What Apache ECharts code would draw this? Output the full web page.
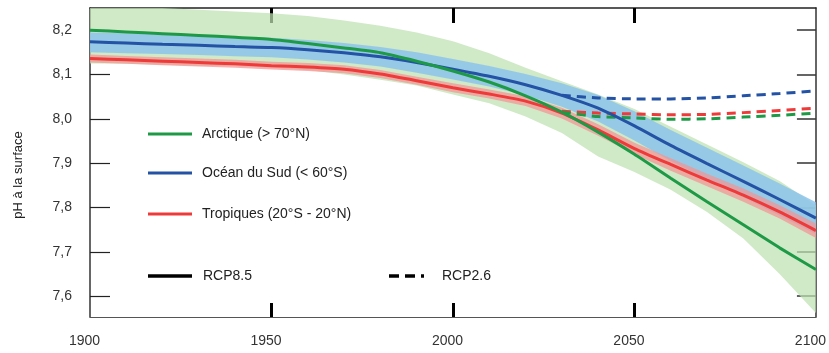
<!DOCTYPE html>
<html><head><meta charset="utf-8">
<script src="https://cdn.jsdelivr.net/npm/echarts@6/dist/echarts.min.js"></script>
<style>html,body{margin:0;padding:0;background:#fff}#c{width:829px;height:353px}</style>
</head><body><div id="c"></div>
<script>
const years = [1900,1910,1920,1930,1940,1950,1960,1970,1980,1990,2000,2010,2020,2030,2040,2050,2060,2070,2080,2090,2100];
const arctique85 = [8.200,8.196,8.192,8.188,8.184,8.179,8.170,8.160,8.149,8.130,8.108,8.083,8.052,8.015,7.970,7.920,7.866,7.813,7.761,7.709,7.660];
const sud85      = [8.174,8.171,8.168,8.166,8.163,8.161,8.156,8.149,8.140,8.127,8.112,8.096,8.077,8.053,8.024,7.984,7.940,7.899,7.859,7.818,7.776];
const tropiques85= [8.136,8.133,8.130,8.127,8.124,8.120,8.117,8.112,8.101,8.086,8.070,8.056,8.040,8.013,7.975,7.933,7.897,7.862,7.828,7.790,7.748];

const arctiqueHi = [8.250,8.250,8.250,8.246,8.242,8.238,8.232,8.222,8.210,8.195,8.175,8.148,8.115,8.085,8.055,8.022,7.982,7.942,7.902,7.860,7.805];
const arctiqueLo = [8.125,8.124,8.122,8.120,8.119,8.116,8.110,8.100,8.088,8.075,8.055,8.035,8.005,7.968,7.915,7.880,7.840,7.790,7.730,7.650,7.562];
const sudHi = [8.195,8.193,8.190,8.188,8.185,8.183,8.178,8.171,8.162,8.150,8.135,8.119,8.101,8.080,8.054,8.017,7.975,7.935,7.895,7.854,7.812];
const sudLo = [8.150,8.148,8.146,8.144,8.141,8.139,8.134,8.127,8.118,8.104,8.089,8.073,8.053,8.027,7.994,7.951,7.905,7.863,7.823,7.782,7.740];
const tropHi = [8.145,8.142,8.139,8.136,8.133,8.129,8.126,8.121,8.110,8.095,8.080,8.066,8.051,8.025,7.988,7.946,7.911,7.876,7.843,7.805,7.764];
const tropLo = [8.127,8.124,8.121,8.118,8.115,8.111,8.108,8.103,8.092,8.077,8.060,8.046,8.029,8.001,7.962,7.920,7.883,7.848,7.813,7.775,7.731];

const years26 = [2030,2040,2050,2060,2070,2080,2090,2100];
const sud26       = [8.053,8.047,8.045,8.045,8.047,8.052,8.057,8.063];
const tropiques26 = [8.017,8.013,8.011,8.009,8.010,8.014,8.019,8.024];
const arctique26  = [8.015,8.005,8.002,7.999,8.000,8.004,8.008,8.013];

const yTicks = [7.6,7.7,7.8,7.9,8.0,8.1,8.2];
const xTicks = [1950,2000,2050];
const xLabels = [1900,1950,2000,2050,2100];

const C_GREEN = '#1e9a47', C_BLUE = '#2452a4', C_RED = '#ef3a3a';
const NARROW = 'Liberation Sans Narrow, Arial Narrow, Liberation Sans, Arial, sans-serif';

function pairs(xs, ys){ return xs.map((x,i)=>[x, ys[i]]); }
function band(name, lo, hi, color){
  return {
    type:'custom', name, silent:true, z:1,
    data:[[years[0], lo[0], hi[0]]],
    renderItem:function(params, api){
      const pts = [];
      for (let i=0;i<years.length;i++) pts.push(api.coord([years[i], hi[i]]));
      for (let i=years.length-1;i>=0;i--) pts.push(api.coord([years[i], lo[i]]));
      const cs = params.coordSys;
      return {type:'polygon', shape:{points:pts}, style:{fill:color},
        clipPath:{type:'rect', shape:{x:cs.x, y:cs.y, width:cs.width, height:cs.height}}};
    }
  };
}
function line(name, xs, ys, color, dashed, z){
  return {type:'line', name, data:pairs(xs, ys), showSymbol:false, smooth:0.2, z:z,
    lineStyle:{color, width:3, type: dashed ? [9,6] : 'solid', cap:'butt'}, silent:true};
}

const chart = echarts.init(document.getElementById('c'), null, {renderer:'canvas'});
const axisFont = {fontFamily:'Liberation Sans, Arial, sans-serif', fontSize:14, color:'#333'};
chart.setOption({
  animation:false,
  grid:{left:90, right:12, top:8, bottom:36},
  xAxis:[
    {type:'value', min:1900, max:2100, position:'bottom',
     axisLine:{show:true, lineStyle:{color:'#555', width:1}},
     axisTick:{show:true, inside:true, length:14, customValues:xTicks, lineStyle:{color:'#000', width:3}},
     axisLabel:Object.assign({customValues:xLabels, margin:17, padding:[0,11,0,0], formatter:v=>String(v)}, axisFont),
     splitLine:{show:false}},
    {type:'value', min:1900, max:2100, position:'top',
     axisLine:{show:true, lineStyle:{color:'#222', width:1.5}},
     axisTick:{show:true, inside:true, length:15, customValues:xTicks, lineStyle:{color:'#000', width:3}},
     axisLabel:{show:false}, splitLine:{show:false}}
  ],
  yAxis:[
    {type:'value', min:7.553, max:8.25, position:'left',
     axisLine:{show:true, lineStyle:{color:'#333', width:1.5}},
     axisTick:{show:true, inside:true, length:20, customValues:yTicks, lineStyle:{color:'#222', width:1.2}},
     axisLabel:Object.assign({customValues:yTicks, margin:18, formatter:v=>v.toFixed(1).replace('.', ',')}, axisFont),
     splitLine:{show:false}},
    {type:'value', min:7.553, max:8.25, position:'right',
     axisLine:{show:true, lineStyle:{color:'#333', width:1.5}},
     axisTick:{show:true, inside:true, length:19, customValues:yTicks, lineStyle:{color:'#333', width:1.5}},
     axisLabel:{show:false}, splitLine:{show:false}}
  ],
  series:[
    band('Arctique bande', arctiqueLo, arctiqueHi, 'rgba(190,224,176,0.72)'),
    band('Sud bande', sudLo, sudHi, 'rgba(140,196,235,0.85)'),
    band('Tropiques bande', tropLo, tropHi, 'rgba(242,150,150,0.75)'),
    line('Océan du Sud RCP2.6', years26, sud26, C_BLUE, true, 3),
    line('Tropiques RCP2.6', years26, tropiques26, C_RED, true, 3),
    line('Arctique RCP2.6', years26, arctique26, C_GREEN, true, 3),
    line('Océan du Sud', years, sud85, C_BLUE, false, 4),
    line('Tropiques', years, tropiques85, C_RED, false, 5),
    line('Arctique', years, arctique85, C_GREEN, false, 6)
  ],
  graphic:[
    {type:'text', x:18, y:175, rotation:Math.PI/2, style:{text:'pH à la surface', fontFamily:NARROW, fontSize:13, fill:'#222', align:'center', verticalAlign:'middle'}},
    {type:'line', shape:{x1:148,y1:134,x2:192,y2:134}, style:{stroke:C_GREEN, lineWidth:3}},
    {type:'text', x:202, y:134, style:{text:'Arctique (> 70°N)', fontFamily:NARROW, fontSize:14, fill:'#222', verticalAlign:'middle'}},
    {type:'line', shape:{x1:148,y1:173,x2:192,y2:173}, style:{stroke:C_BLUE, lineWidth:3}},
    {type:'text', x:202, y:173, style:{text:'Océan du Sud (< 60°S)', fontFamily:NARROW, fontSize:14, fill:'#222', verticalAlign:'middle'}},
    {type:'line', shape:{x1:148,y1:214,x2:192,y2:214}, style:{stroke:C_RED, lineWidth:3}},
    {type:'text', x:202, y:214, style:{text:'Tropiques (20°S - 20°N)', fontFamily:NARROW, fontSize:14, fill:'#222', verticalAlign:'middle'}},
    {type:'line', shape:{x1:148,y1:276,x2:192,y2:276}, style:{stroke:'#000', lineWidth:3.5}},
    {type:'text', x:203, y:276, style:{text:'RCP8.5', fontFamily:NARROW, fontSize:14, fill:'#222', verticalAlign:'middle'}},
    {type:'line', shape:{x1:389,y1:276,x2:399,y2:276}, style:{stroke:'#000', lineWidth:3.5}},
    {type:'line', shape:{x1:405,y1:276,x2:415,y2:276}, style:{stroke:'#000', lineWidth:3.5}},
    {type:'line', shape:{x1:421,y1:276,x2:424,y2:276}, style:{stroke:'#000', lineWidth:3.5}},
    {type:'text', x:442, y:276, style:{text:'RCP2.6', fontFamily:NARROW, fontSize:14, fill:'#222', verticalAlign:'middle'}}
  ]
});
</script></body></html>
